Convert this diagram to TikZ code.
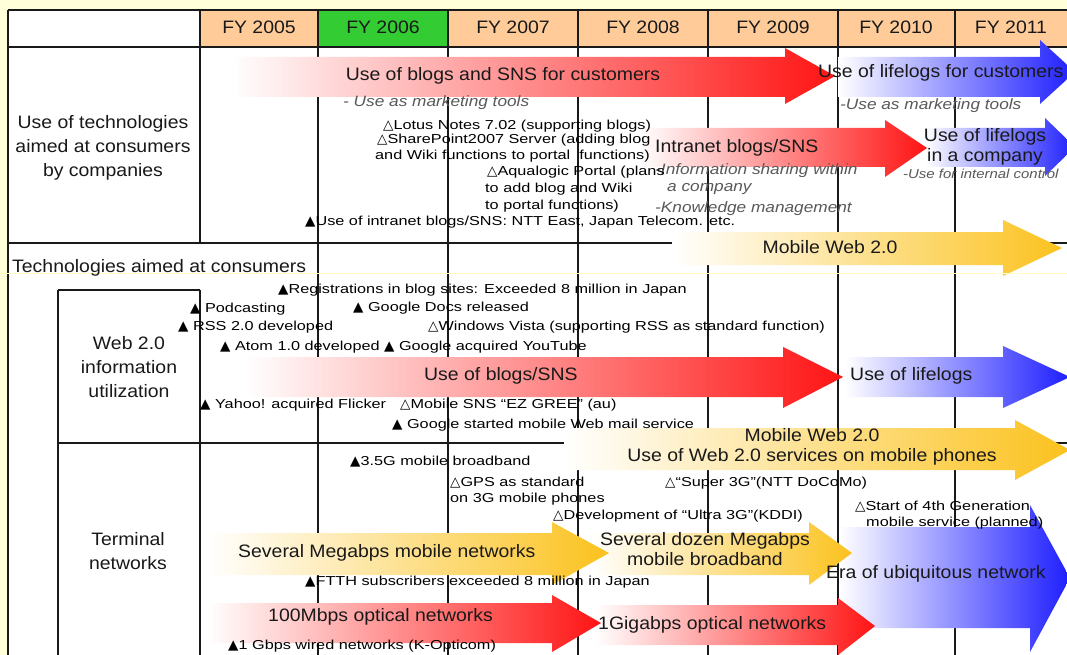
\documentclass[tikz,border=0pt]{standalone}
\usepackage{fontspec}
\setmainfont{Liberation Sans}
\newfontfamily\bigf{Liberation Sans}[FakeStretch=1.08]
\newfontfamily\smf{Liberation Sans}[FakeStretch=1.25]
\newfontfamily\itf{Liberation Sans}[FakeStretch=1.15]
\newfontfamily\symf{DejaVu Sans}
\newcommand\bt{{\symf\fontsize{13.5}{15}\selectfont ▲}}
\newcommand\wt{{\symf\fontsize{13.5}{15}\selectfont △}}
\definecolor{bgy}{HTML}{FFFFDA}
\definecolor{seam}{HTML}{FFFFC0}
\definecolor{peach}{HTML}{FFCC99}
\definecolor{grn}{HTML}{33CC33}
\definecolor{ared}{HTML}{FF1414}
\definecolor{ablue}{HTML}{1E1EFF}
\definecolor{agold}{HTML}{FBC21E}
\tikzset{
  big/.style={font=\bigf\fontsize{18}{24}\selectfont, inner sep=0pt, align=center, text=black!90},
  bigtwo/.style={big, font=\bigf\fontsize{18}{20}\selectfont},
  sm/.style={font=\smf\fontsize{13}{17}\selectfont, inner sep=0pt, anchor=west, text=black},
  sub/.style={font=\itf\itshape\fontsize{15}{19}\selectfont, text=black!65, inner sep=0pt, anchor=west},
  gridline/.style={line width=1.3pt, black!90},
}
\newcommand\garrow[9]{%
  \shade[left color=white, right color=#9] (#1,#4) -- (#2,#4) -- (#2,#6) -- (#3,#8) -- (#2,#7) -- (#2,#5) -- (#1,#5) -- cycle;}
\begin{document}
\begin{tikzpicture}[x=1pt,y=-1pt]
\useasboundingbox (0,0) rectangle (1067,655);
\clip (0,0) rectangle (1067,655);
% background
\fill[bgy] (0,0) rectangle (1067,655);
\fill[white] (8,10) rectangle (1067,655);
% header cells
\fill[peach] (200,10) rectangle (318,47);
\fill[grn] (318,10) rectangle (448,47);
\fill[peach] (448,10) rectangle (1067,47);
% grid
\draw[gridline] (8,10) -- (1067,10);
\draw[gridline] (8,47) -- (1067,47);
\draw[gridline] (8,10) -- (8,655);
\draw[gridline] (200,10) -- (200,243);
\draw[gridline] (200,290) -- (200,655);
\foreach \xx in {318,448,578,708,838,955} \draw[gridline] (\xx,10) -- (\xx,655);
\draw[gridline] (8,243) -- (1067,243);
\draw[gridline] (58,290) -- (200,290);
\draw[gridline] (58,290) -- (58,655);
\draw[gridline] (58,443) -- (1067,443);
% arrows
\garrow{838}{1040}{1075}{57}{97}{40}{104}{72}{ablue}
\garrow{230}{785}{835}{57}{97}{48}{104}{76}{ared}
\garrow{925}{1045}{1075}{128}{167}{118}{176}{147}{ablue}
\garrow{640}{885}{927}{128}{167}{120}{177}{148}{ared}
\garrow{672}{1003}{1062}{232}{265}{220}{276}{248}{agold}
\garrow{845}{1003}{1070}{357}{397}{346}{408}{377}{ablue}
\garrow{245}{783}{843}{357}{397}{347}{408}{377}{ared}
\garrow{564}{1015}{1070}{428}{470}{420}{480}{450}{agold}
\garrow{840}{1030}{1070}{527}{628}{505}{652}{578}{ablue}
\garrow{590}{809}{852}{533}{575}{522}{585}{553}{agold}
\garrow{207}{552}{609}{533}{575}{522}{585}{553}{agold}
\garrow{595}{838}{875}{605}{645}{598}{655}{626}{ared}
\garrow{207}{552}{601}{603}{643}{595}{652}{623}{ared}
% seam
\draw[seam, line width=1pt] (0,273) -- (1067,273);
% header texts
\node[big] (fy05) at (259,27) {FY 2005};
\node[big] (fy06) at (383,27) {FY 2006};
\node[big] (fy07) at (513,27) {FY 2007};
\node[big] (fy08) at (643,27) {FY 2008};
\node[big] (fy09) at (773,27) {FY 2009};
\node[big] (fy10) at (896,27) {FY 2010};
\node[big] (fy11) at (1011,27) {FY 2011};
% row labels
\node[big] (h0) at (103,148) {Use of technologies\\aimed at consumers\\by companies};
\node[big, anchor=west] (h1) at (12,268) {Technologies aimed at consumers};
\node[big] (h2) at (129,367) {Web 2.0\\information\\utilization};
\node[big] (h3) at (128,551) {Terminal\\networks};
% arrow labels
\node[big] (l1) at (503,76) {Use of blogs and SNS for customers};
\node[big, anchor=west] (l2) at (818,73) {Use of lifelogs for customers};
\node[big, anchor=west] (l3) at (655,148) {Intranet blogs/SNS};
\node[bigtwo] (l4) at (985,147) {Use of lifelogs\\in a company};
\node[big] (l5) at (830,247) {Mobile Web 2.0};
\node[big, anchor=west] (l6) at (424,376) {Use of blogs/SNS};
\node[big, anchor=west] (l7) at (850,376) {Use of lifelogs};
\node[bigtwo] (l8) at (812,447) {Mobile Web 2.0\\Use of Web 2.0 services on mobile phones};
\node[big, anchor=west] (l9) at (238,553) {Several Megabps mobile networks};
\node[bigtwo] (l10) at (705,549) {Several dozen Megabps\\mobile broadband};
\node[big, anchor=west] (l11) at (826,574) {Era of ubiquitous network};
\node[big, anchor=west] (l12) at (268,617) {100Mbps optical networks};
\node[big, anchor=west] (l13) at (598,625) {1Gigabps optical networks};
% italic sub texts
\node[sub] (i1) at (343,103) {- Use as marketing tools};
\node[sub] (i2) at (840,106) {-Use as marketing tools};
\node[sub] (i3) at (655,171) {-Information sharing within};
\node[sub] (i4) at (667,189) {a company};
\node[sub] (i5) at (655,209) {-Knowledge management};
\node[sub, font=\itf\itshape\fontsize{13}{17}\selectfont] (i6) at (903,174) {-Use for internal control};
% small event texts, row 1
\node[sm] (e1) at (383,126) {\wt Lotus Notes 7.02 (supporting blogs)};
\node[sm] (e2) at (377,140) {\wt SharePoint2007 Server (adding blog};
\node[sm] (e3) at (375,156) {and Wiki functions to portal\ \ functions)};
\node[sm] (e4) at (487,172) {\wt Aqualogic Portal (plans};
\node[sm] (e5) at (485,189) {to add blog and Wiki};
\node[sm] (e6) at (485,206) {to portal functions)};
\node[sm] (e7) at (305,222) {\bt Use of intranet blogs/SNS: NTT East, Japan Telecom. etc.};
% web 2.0
\node[sm] (w1) at (278,290) {\bt Registrations in blog sites: Exceeded 8 million in Japan};
\node[sm] (w2) at (190,309) {\bt\ Podcasting};
\node[sm] (w3) at (353,308) {\bt\ Google Docs released};
\node[sm] (w4) at (178,327) {\bt\ RSS 2.0 developed};
\node[sm] (w5) at (428,327) {\wt Windows Vista (supporting RSS as standard function)};
\node[sm] (w6) at (220,347) {\bt\ Atom 1.0 developed \bt\ Google acquired YouTube};
\node[sm] (w7) at (200,405) {\bt\ Yahoo! acquired Flicker};
\node[sm] (w8) at (400,405) {\wt Mobile SNS “EZ GREE” (au)};
\node[sm] (w9) at (392,425) {\bt\ Google started mobile Web mail service};
% terminal networks
\node[sm] (n1) at (350,462) {\bt 3.5G mobile broadband};
\node[sm] (n2) at (450,483) {\wt GPS as standard};
\node[sm] (n3) at (450,499) {on 3G mobile phones};
\node[sm] (n4) at (665,483) {\wt“Super 3G”(NTT DoCoMo)};
\node[sm] (n5) at (553,516) {\wt Development of “Ultra 3G”(KDDI)};
\node[sm] (n6) at (855,507) {\wt Start of 4th Generation};
\node[sm] (n7) at (866,523) {mobile service (planned)};
\node[sm] (n8) at (305,582) {\bt FTTH subscribers exceeded 8 million in Japan};
\node[sm] (n9) at (228,646) {\bt 1 Gbps wired networks (K-Opticom)};
\end{tikzpicture}
\end{document}
